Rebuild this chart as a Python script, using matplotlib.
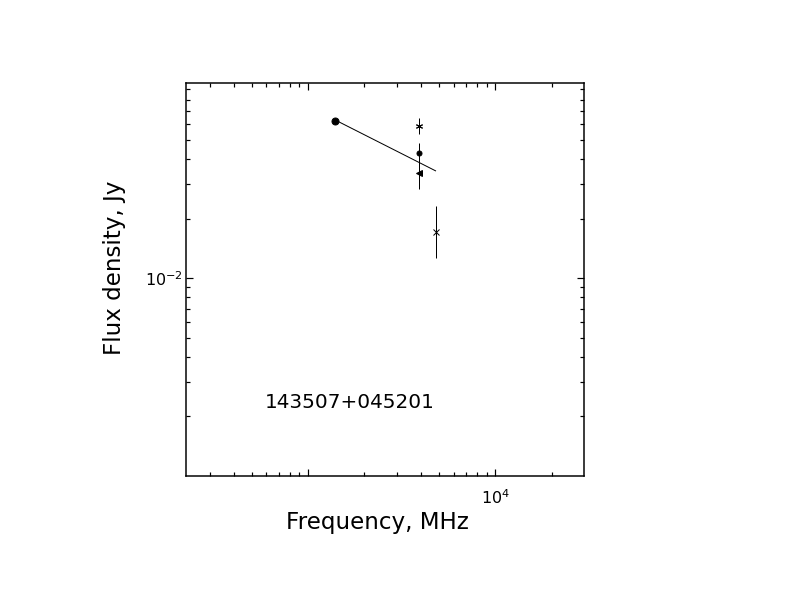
import matplotlib
matplotlib.use('Agg')
import matplotlib.pyplot as plt
from matplotlib.ticker import LogLocator, NullFormatter
import numpy as np

# spectrum points (frequency in MHz, flux in Jy)
circle_freq = [1400]
circle_flux = [0.062]

star_freq = [3900]
star_flux = [0.059]
star_err = [0.0053]

dot_freq = [3900]
dot_flux = [0.0431]
dot_err = [0.005]

tri_freq = [3900]
tri_flux = [0.0341]
tri_err = [0.0059]

cross_freq = [4800]
cross_flux = [0.0172]
cross_err_low = [0.0045]
cross_err_high = [0.0059]

# power-law fit
fit_freq = [1400, 4800]
fit_flux = [0.0630, 0.0349]

source_name = '143507+045201'
x_ticks = [1e3, 1e4]
x_tick_labels = ['', r'$10^{4}$']
y_ticks = [1e-2]
y_tick_labels = [r'$10^{-2}$']

fig = plt.figure(figsize=(11, 8.5), dpi=72)
ax = fig.add_axes([186/792, 1-476/612, 398/792, 393/612])
ax.set_xscale('log')
ax.set_yscale('log')
ax.set_xlim(223, 29800)
ax.set_ylim(1.0e-3, 0.097)

# fit line
ax.plot(fit_freq, fit_flux, color='k', lw=1)

# data
ax.plot(circle_freq, circle_flux, 'o', color='k', ms=7)
ax.errorbar(star_freq, star_flux, yerr=star_err, fmt='none', ecolor='k', elinewidth=1, capsize=0)
ax.plot(star_freq, star_flux, marker=(6, 2, 0), color='k', ms=7, mew=1, ls='none')
ax.errorbar(dot_freq, dot_flux, yerr=dot_err, fmt='o', color='k', ms=5, elinewidth=1, capsize=0)
ax.errorbar(tri_freq, tri_flux, yerr=tri_err, fmt='<', color='k', ms=6, elinewidth=1, capsize=0)
ax.errorbar(cross_freq, cross_flux, yerr=[cross_err_low, cross_err_high], fmt='x', color='k',
            ms=6, mew=1, elinewidth=1, capsize=0)

ax.text(0.1985, 0.186, source_name, transform=ax.transAxes, ha='left', va='center', fontsize=20)

# ticks
ax.set_xticks(x_ticks)
ax.set_xticklabels(x_tick_labels, fontsize=16)
ax.set_yticks(y_ticks)
ax.set_yticklabels(y_tick_labels, fontsize=16)
ax.xaxis.set_minor_locator(LogLocator(base=10, subs=np.arange(2, 10)))
ax.yaxis.set_minor_locator(LogLocator(base=10, subs=np.arange(2, 10)))
ax.xaxis.set_minor_formatter(NullFormatter())
ax.yaxis.set_minor_formatter(NullFormatter())
ax.tick_params(which='both', direction='in', top=True, right=True, width=1.2)
ax.tick_params(which='major', length=7)
ax.tick_params(which='minor', length=4)
ax.tick_params(axis='x', which='major', pad=12)
ax.tick_params(axis='y', which='major', pad=3)
for s in ax.spines.values():
    s.set_linewidth(1.5)

fig.text(377/792, 1-522/612, 'Frequency, MHz', ha='center', va='center', fontsize=23)
fig.text(114/792, 1-268/612, 'Flux density, Jy', ha='center', va='center', fontsize=23, rotation=90)

fig.savefig('out.png', dpi=72, facecolor='white')
